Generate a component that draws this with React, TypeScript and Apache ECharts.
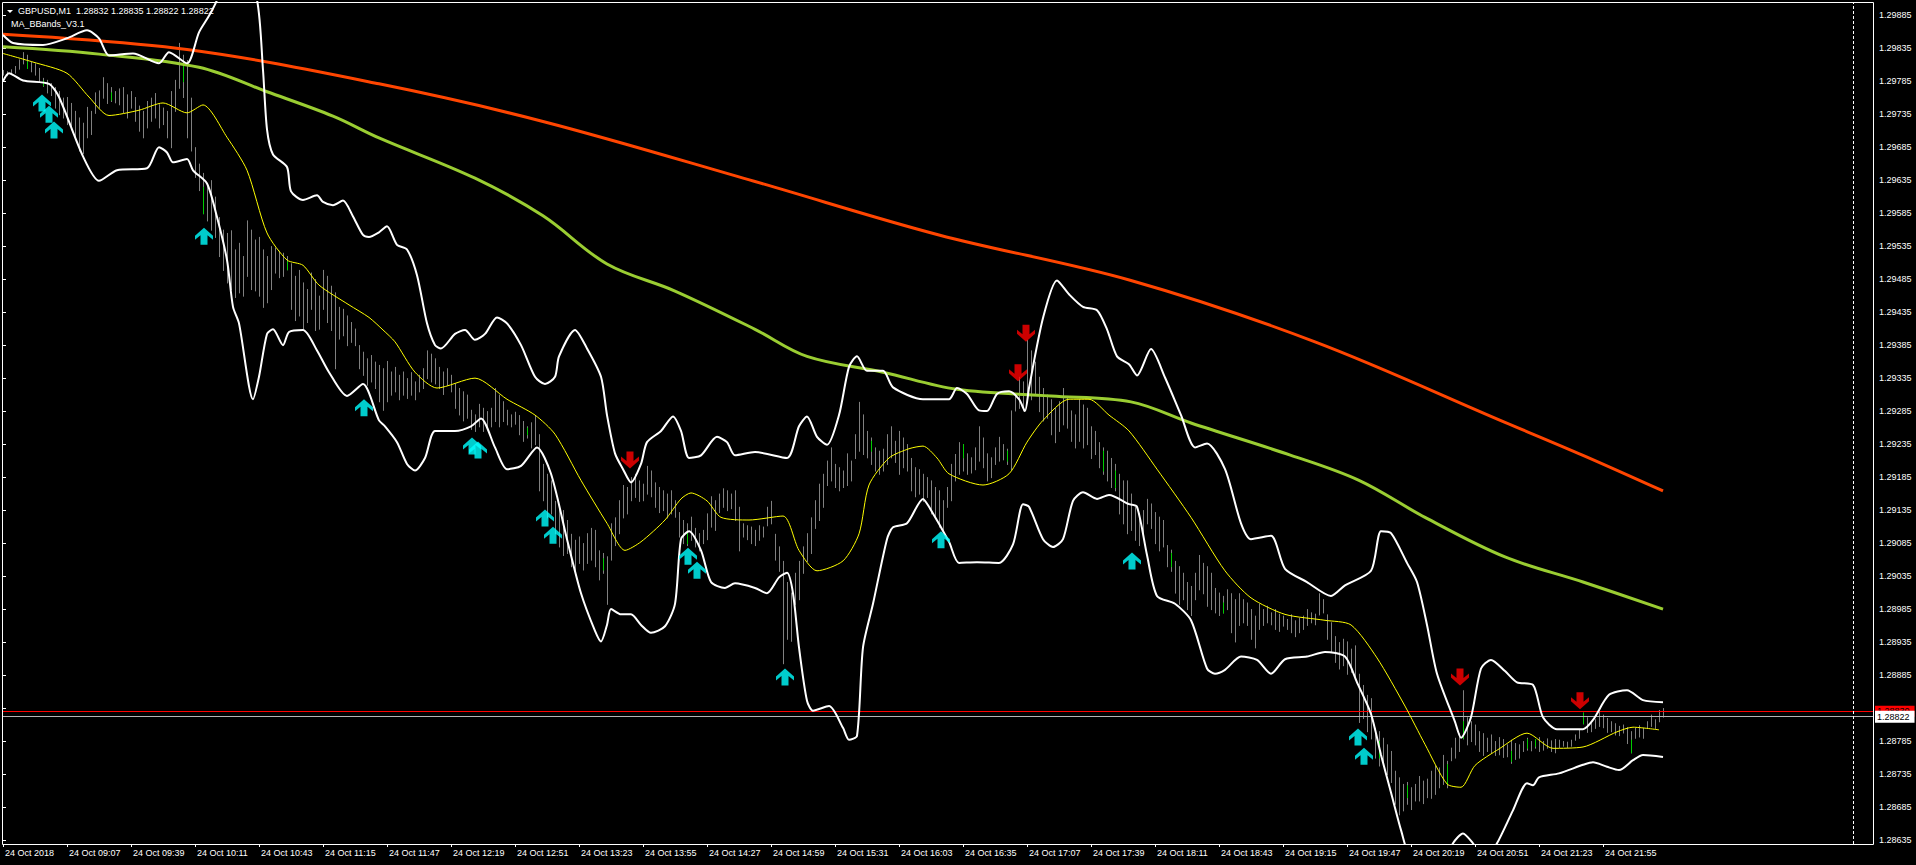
import React, { useEffect, useRef } from "react";
import * as echarts from "echarts";

// Prices are stored as points (0.00001) above BASE.
const BASE = 1.28;
const PT = 0.00001;
const BAR_STEP = 2; // one drawn bar every 2 one-minute bars

const xTickIdx = [0, 32, 64, 96, 128, 160, 192, 224, 256, 288, 320, 352, 384, 416, 448, 480, 512, 544, 576, 608, 640, 672, 704, 736, 768, 800];
const xTickLabels = [
  "24 Oct 2018", "24 Oct 09:07", "24 Oct 09:39", "24 Oct 10:11", "24 Oct 10:43", "24 Oct 11:15",
  "24 Oct 11:47", "24 Oct 12:19", "24 Oct 12:51", "24 Oct 13:23", "24 Oct 13:55", "24 Oct 14:27",
  "24 Oct 14:59", "24 Oct 15:31", "24 Oct 16:03", "24 Oct 16:35", "24 Oct 17:07", "24 Oct 17:39",
  "24 Oct 18:11", "24 Oct 18:43", "24 Oct 19:15", "24 Oct 19:47", "24 Oct 20:19", "24 Oct 20:51",
  "24 Oct 21:23", "24 Oct 21:55",
];
const yTickLabels = [
  "1.28635", "1.28685", "1.28735", "1.28785", "1.28835", "1.28885", "1.28935", "1.28985", "1.29035",
  "1.29085", "1.29135", "1.29185", "1.29235", "1.29285", "1.29335", "1.29385", "1.29435", "1.29485",
  "1.29535", "1.29585", "1.29635", "1.29685", "1.29735", "1.29785", "1.29835", "1.29885",
];
// tick label hidden behind the price labels in the reference
const hiddenYLabel = "1.28835";

const barHigh = [
  1802,1800,1803,1808,1818,1829,1825,1815,1812,1805,
  1790,1787,1782,1776,1770,1760,1761,1752,1740,1730,
  1722,1746,1740,1768,1771,1791,1782,1776,1770,1774,
  1776,1765,1770,1761,1748,1740,1755,1760,1767,1750,
  1745,1740,1770,1787,1843,1825,1817,1760,1685,1660,
  1646,1630,1635,1610,1579,1560,1555,1559,1530,1540,
  1520,1574,1560,1545,1549,1530,1520,1535,1533,1528,
  1525,1520,1509,1490,1499,1480,1470,1495,1485,1460,
  1499,1490,1475,1465,1443,1440,1430,1420,1410,1385,
  1375,1365,1370,1360,1355,1350,1361,1345,1352,1340,
  1345,1335,1344,1330,1340,1350,1377,1372,1365,1352,
  1345,1350,1340,1327,1320,1315,1310,1287,1280,1296,
  1290,1285,1290,1320,1310,1300,1287,1280,1284,1279,
  1270,1262,1268,1279,1250,1205,1190,1180,1149,1140,
  1135,1120,1099,1090,1095,1085,1100,1108,1105,1074,
  1070,1065,1115,1124,1150,1173,1170,1185,1190,1180,
  1175,1202,1195,1177,1170,1165,1160,1165,1150,1132,
  1120,1115,1125,1108,1100,1105,1130,1156,1150,1160,
  1168,1165,1160,1165,1140,1115,1112,1110,1105,1112,
  1110,1140,1149,1099,1080,1058,1026,1010,1040,1058,
  1080,1100,1124,1150,1175,1190,1210,1230,1205,1200,
  1195,1221,1210,1250,1299,1280,1255,1245,1230,1225,
  1228,1250,1262,1240,1255,1245,1235,1214,1200,1197,
  1190,1185,1180,1170,1165,1150,1170,1205,1220,1238,
  1235,1221,1215,1230,1262,1245,1221,1215,1230,1246,
  1235,1228,1286,1310,1337,1330,1393,1377,1360,1337,
  1320,1310,1303,1290,1300,1320,1305,1286,1280,1303,
  1295,1290,1262,1255,1238,1230,1225,1214,1205,1190,
  1180,1180,1160,1140,1130,1135,1152,1145,1132,1125,
  1120,1082,1075,1058,1050,1040,1026,1020,1040,1067,
  1055,1050,1040,1017,1010,1005,1015,1009,1000,1009,
  1000,995,985,975,993,985,990,980,985,978,
  975,970,977,968,972,975,985,980,978,1009,
  1000,977,965,944,935,940,936,925,930,887,
  870,855,850,805,800,790,780,770,740,730,
  720,723,715,720,732,725,728,740,748,745,
  764,755,775,790,797,862,821,815,810,800,
  797,790,795,785,791,788,780,787,782,780,
  785,790,785,788,791,785,789,786,788,787,
  785,784,787,795,802,828,821,815,818,829,
  825,820,815,812,808,810,806,800,805,809,
  805,815,825,818,832,835,
];
const barLow = [
  1795,1794,1796,1798,1804,1812,1810,1800,1795,1785,
  1778,1768,1764,1745,1735,1730,1720,1712,1700,1680,
  1676,1700,1705,1737,1745,1760,1752,1755,1753,1750,
  1738,1730,1745,1725,1710,1700,1715,1725,1730,1715,
  1720,1700,1685,1740,1775,1761,1700,1680,1640,1620,
  1585,1574,1560,1549,1520,1499,1480,1470,1458,1465,
  1460,1490,1470,1468,1460,1443,1450,1470,1495,1488,
  1490,1500,1440,1423,1430,1410,1420,1440,1408,1410,
  1440,1420,1408,1350,1395,1400,1385,1390,1385,1350,
  1340,1325,1330,1320,1300,1287,1300,1310,1315,1303,
  1310,1305,1310,1303,1315,1320,1335,1330,1327,1320,
  1311,1325,1315,1290,1280,1271,1275,1258,1255,1262,
  1255,1260,1262,1270,1262,1270,1265,1262,1266,1250,
  1240,1245,1230,1235,1165,1150,1124,1130,1100,1080,
  1067,1070,1050,1043,1055,1045,1055,1060,1050,1030,
  1040,993,1060,1082,1100,1124,1130,1150,1155,1149,
  1150,1160,1156,1140,1132,1135,1124,1130,1125,1095,
  1085,1082,1090,1080,1074,1085,1091,1110,1105,1132,
  1140,1135,1138,1120,1074,1095,1091,1085,1082,1090,
  1095,1112,1115,1060,1043,903,940,937,993,1000,
  1040,1058,1070,1108,1120,1140,1173,1180,1170,1165,
  1170,1173,1180,1214,1225,1220,1215,1205,1195,1190,
  1195,1205,1215,1208,1190,1200,1195,1165,1156,1160,
  1149,1155,1130,1124,1110,1103,1140,1150,1180,1190,
  1195,1190,1192,1197,1210,1200,1180,1185,1205,1210,
  1212,1205,1197,1286,1290,1286,1300,1303,1310,1285,
  1271,1275,1250,1238,1255,1265,1260,1240,1230,1240,
  1230,1235,1214,1220,1200,1190,1180,1170,1165,1130,
  1115,1100,1105,1090,1082,1095,1115,1108,1085,1074,
  1080,1050,1043,1010,993,1000,985,976,1000,1015,
  1009,990,985,980,976,980,985,950,936,961,
  965,961,940,927,955,961,965,962,955,952,
  960,955,950,944,950,955,961,965,962,977,
  980,940,920,905,895,900,887,890,880,814,
  820,800,789,760,748,750,735,723,690,674,
  680,690,682,695,695,691,700,699,705,715,
  720,715,756,760,770,789,780,785,780,770,
  764,770,768,764,765,761,762,752,758,760,
  770,772,771,775,770,772,775,770,768,776,
  778,776,778,787,790,812,799,800,805,808,
  806,799,800,795,794,798,782,768,790,792,
  790,805,808,805,815,822,
];
// [bar minute, body low, body high] for bull bars drawn in green
const greenBars = [
  [12, 1805, 1815], [20, 1779, 1786], [54, 1757, 1768], [90, 1785, 1809], [100, 1585, 1625],
  [142, 1500, 1512], [262, 1250, 1260], [300, 1045, 1062], [342, 1085, 1100], [434, 1225, 1240],
  [480, 1215, 1235], [502, 1210, 1225], [550, 1195, 1225], [556, 1170, 1195], [584, 1050, 1070],
  [610, 980, 995], [688, 760, 785], [702, 700, 718], [722, 720, 750], [730, 790, 815],
  [754, 755, 770], [762, 775, 788], [766, 778, 788], [790, 812, 828], [814, 768, 787],
];

const maSlow = [[0,1856],[92,1833],[188,1781],[270,1724],[376,1633],[468,1552],[564,1483],[656,1390],[751,1268],[790,1218],[830,1164]];
const maMid = [[0,1837],[48,1826],[98,1806],[132,1769],[165,1732],[188,1699],[236,1638],[270,1581],[302,1508],[336,1467],[376,1409],[402,1368],[440,1344],[477,1318],[524,1308],[564,1299],[594,1267],[644,1218],[678,1180],[711,1124],[751,1064],[790,1026],[830,985]];
const maFast = [[0,1827],[15,1814],[32,1797],[43,1761],[53,1733],[68,1741],[80,1752],[92,1737],[100,1749],[112,1700],[122,1650],[132,1555],[142,1514],[150,1506],[158,1476],[173,1446],[183,1427],[190,1408],[196,1390],[206,1344],[217,1320],[236,1335],[252,1303],[266,1279],[276,1250],[289,1180],[302,1115],[311,1074],[319,1087],[331,1120],[339,1152],[344,1161],[352,1149],[359,1124],[373,1120],[390,1126],[398,1074],[407,1043],[420,1058],[428,1099],[433,1173],[443,1214],[453,1228],[460,1232],[467,1214],[473,1190],[490,1173],[503,1190],[512,1238],[520,1271],[533,1303],[543,1303],[553,1279],[563,1255],[577,1197],[594,1124],[611,1043],[624,1002],[641,977],[661,968],[674,961],[687,911],[701,838],[711,780],[722,720],[729,715],[736,748],[748,773],[762,797],[775,774],[790,776],[807,799],[815,806],[828,802]];
const upperBand = [[0,1855],[5,1843],[20,1840],[32,1850],[42,1862],[48,1850],[53,1824],[65,1827],[78,1812],[83,1829],[92,1812],[98,1859],[103,1884],[107,1908],[117,1990],[127,1908],[130,1802],[132,1712],[135,1674],[142,1655],[144,1618],[150,1605],[157,1612],[160,1602],[165,1597],[170,1604],[175,1580],[180,1552],[183,1549],[188,1556],[192,1565],[197,1537],[202,1530],[207,1491],[212,1418],[216,1385],[219,1380],[226,1402],[231,1408],[236,1393],[241,1402],[247,1427],[252,1418],[259,1385],[266,1337],[271,1326],[276,1337],[278,1368],[286,1408],[292,1380],[299,1337],[302,1279],[306,1221],[310,1197],[314,1177],[319,1205],[322,1238],[329,1255],[335,1277],[339,1255],[343,1214],[349,1218],[357,1246],[362,1238],[366,1218],[376,1223],[392,1214],[398,1262],[402,1277],[407,1246],[412,1234],[418,1279],[423,1352],[427,1368],[432,1346],[440,1346],[445,1321],[460,1303],[473,1303],[477,1320],[482,1311],[488,1286],[492,1285],[497,1311],[503,1315],[508,1303],[511,1285],[513,1320],[520,1426],[527,1483],[533,1462],[540,1443],[547,1438],[552,1409],[557,1368],[563,1356],[567,1339],[574,1379],[581,1336],[589,1279],[596,1230],[602,1236],[611,1197],[619,1115],[624,1091],[634,1096],[641,1046],[652,1026],[664,1005],[671,1021],[684,1043],[689,1103],[694,1100],[702,1055],[707,1026],[712,961],[717,887],[726,814],[729,790],[734,821],[739,895],[744,908],[751,891],[757,874],[765,870],[770,821],[777,803],[790,803],[795,817],[803,855],[812,862],[820,847],[830,844]];
const lowerBand = [[0,1785],[3,1797],[10,1786],[23,1781],[28,1761],[40,1671],[48,1634],[57,1650],[72,1653],[78,1685],[82,1677],[85,1662],[92,1667],[95,1650],[102,1630],[107,1579],[112,1514],[115,1443],[118,1418],[125,1303],[128,1337],[132,1402],[135,1409],[140,1385],[143,1405],[150,1408],[157,1377],[163,1344],[172,1308],[180,1326],[188,1271],[191,1262],[197,1238],[202,1205],[206,1195],[211,1214],[216,1255],[226,1255],[234,1262],[239,1274],[246,1230],[252,1197],[259,1202],[267,1230],[274,1190],[282,1091],[289,1009],[296,952],[299,936],[302,961],[304,985],[309,977],[314,977],[319,961],[324,949],[331,959],[336,993],[339,1091],[343,1103],[349,1074],[354,1026],[361,1017],[366,1024],[376,1017],[382,1009],[388,1033],[392,1040],[395,1009],[398,927],[402,846],[405,831],[413,838],[420,805],[423,787],[427,793],[430,927],[435,993],[442,1091],[445,1109],[452,1115],[460,1152],[463,1140],[473,1087],[478,1055],[487,1056],[498,1055],[505,1083],[510,1144],[513,1140],[520,1091],[525,1079],[530,1091],[535,1149],[540,1162],[547,1152],[553,1158],[563,1144],[567,1140],[572,1067],[577,1005],[586,993],[594,968],[602,895],[606,887],[611,893],[619,913],[627,908],[634,887],[641,909],[652,913],[661,920],[671,913],[677,874],[684,826],[689,764],[694,707],[699,650],[705,590],[712,560],[719,590],[725,630],[730,645],[735,630],[741,605],[747,630],[755,680],[762,721],[765,718],[768,730],[778,736],[790,749],[795,753],[802,746],[808,741],[815,756],[820,764],[830,761]];

const buyArrows = [[19.5,1752],[23,1735],[25.5,1711],[100.5,1550],[180.5,1290],[234.5,1232],[237.5,1226],[271,1123],[275,1097],[342.5,1065],[347,1044],[391,882],[469,1090],[564.5,1058],[677.5,791],[680.5,762]];
const sellArrows = [[313.5,1211],[507.5,1343],[511.5,1403],[728.5,882],[788.5,846]];

const askPrice = 1.2883;
const bidPrice = 1.28822;
const shiftMarker = 925;
const headerLine1 = "GBPUSD,M1  1.28832 1.28835 1.28822 1.28822";
const headerLine2 = "MA_BBands_V3.1";

const FONT = "Liberation Sans";
const toPrice = (p: number) => +(BASE + p * PT).toFixed(5);
const toPts = (arr: number[][]) => arr.map((d) => [d[0], toPrice(d[1])]);

const UP_PATH = "path://M9 0 L18 8 L18 12 L12.5 7.5 L12.5 17 L5.5 17 L5.5 7.5 L0 12 L0 8 Z";
const DOWN_PATH = "path://M9 17 L18 9 L18 5 L12.5 9.5 L12.5 0 L5.5 0 L5.5 9.5 L0 5 L0 9 Z";

function barRenderer(color: string) {
  return (params: any, api: any) => {
    const x = api.value(0);
    const top = api.coord([x, api.value(2)]);
    const bot = api.coord([x, api.value(1)]);
    const px = Math.round(top[0]) + 0.5;
    return {
      type: "line",
      shape: { x1: px, y1: top[1], x2: px, y2: bot[1] + 1 },
      style: { stroke: color, lineWidth: 1 },
    };
  };
}

export default function App() {
  const ref = useRef<HTMLDivElement>(null);
  useEffect(() => {
    document.body.style.margin = "0";
    document.body.style.background = "#000";
    if (!ref.current) return;
    const chart = echarts.init(ref.current, undefined, { renderer: "svg" });
    const yVals = yTickLabels.map(Number);
    const yLabelVals = yTickLabels.filter((s) => s !== hiddenYLabel).map(Number);
    const bars = barHigh.map((h, i) => [i * BAR_STEP, toPrice(barLow[i]), toPrice(h)]);
    const greens = greenBars.map((g) => [g[0], toPrice(g[1]), toPrice(g[2])]);
    const lineCommon = { type: "line", showSymbol: false, symbol: "none", silent: true, clip: true };
    chart.setOption({
      animation: false,
      backgroundColor: "#000",
      textStyle: { fontFamily: FONT },
      grid: { left: 3, right: 43, top: 2, bottom: 21 },
      xAxis: {
        type: "value",
        min: 0,
        max: 935,
        axisLine: { show: false },
        splitLine: { show: false },
        axisTick: { show: true, length: 3, customValues: xTickIdx, lineStyle: { color: "#fff" } },
        axisLabel: {
          customValues: xTickIdx,
          formatter: (v: number) => xTickLabels[xTickIdx.indexOf(Math.round(v))] ?? "",
          color: "#fff",
          fontSize: 9,
          fontFamily: FONT,
          align: "left",
          margin: 4,
          padding: [0, 0, 0, 2],
        },
      },
      yAxis: {
        type: "value",
        position: "right",
        min: 1.28629,
        max: 1.29905,
        scale: true,
        axisLine: { show: false },
        splitLine: { show: false },
        axisTick: { show: true, length: 3, customValues: yVals, lineStyle: { color: "#fff" } },
        axisLabel: {
          customValues: yLabelVals,
          formatter: (v: number) => v.toFixed(5),
          color: "#fff",
          fontSize: 9,
          fontFamily: FONT,
          margin: 6,
        },
      },
      series: [
        {
          type: "custom",
          silent: true,
          renderItem: barRenderer("#808080"),
          encode: { x: 0, y: [1, 2] },
          data: bars,
          z: 2,
        },
        {
          type: "custom",
          silent: true,
          renderItem: barRenderer("#00cc00"),
          encode: { x: 0, y: [1, 2] },
          data: greens,
          z: 3,
        },
        {
          ...lineCommon,
          data: toPts(maSlow),
          smooth: 0.35,
          lineStyle: { color: "#ff4500", width: 3 },
          z: 4,
          markLine: {
            silent: true,
            precision: 5,
            symbol: ["none", "none"],
            animation: false,
            data: [
              {
                yAxis: askPrice,
                lineStyle: { color: "#ff0000", width: 1, type: "solid" },
                label: {
                  show: true, position: "end", distance: 2, formatter: askPrice.toFixed(5),
                  backgroundColor: "#ff0000", color: "#000", fontSize: 9, fontFamily: FONT, padding: [1, 5, 1, 2],
                },
              },
              {
                yAxis: bidPrice,
                lineStyle: { color: "#b4b4b4", width: 1, type: "solid" },
                label: {
                  show: true, position: "end", distance: 2, formatter: bidPrice.toFixed(5),
                  backgroundColor: "#ffffff", color: "#000", fontSize: 9, fontFamily: FONT, padding: [2, 5, 1, 2],
                },
              },
              {
                xAxis: shiftMarker,
                lineStyle: { color: "#ffffff", width: 1, type: [3, 2] },
                label: { show: false },
              },
            ],
          },
        },
        { ...lineCommon, data: toPts(maMid), smooth: 0.35, lineStyle: { color: "#9acd32", width: 3 }, z: 5 },
        { ...lineCommon, data: toPts(upperBand), smooth: 0.25, lineStyle: { color: "#ffffff", width: 2 }, z: 6 },
        { ...lineCommon, data: toPts(lowerBand), smooth: 0.25, lineStyle: { color: "#ffffff", width: 2 }, z: 6 },
        { ...lineCommon, data: toPts(maFast), smooth: 0.25, lineStyle: { color: "#ffff00", width: 1 }, z: 7 },
        {
          type: "scatter",
          silent: true,
          symbol: UP_PATH,
          symbolSize: [18, 17],
          itemStyle: { color: "#00ffff" },
          data: toPts(buyArrows),
          z: 8,
        },
        {
          type: "scatter",
          silent: true,
          symbol: DOWN_PATH,
          symbolSize: [18, 17],
          itemStyle: { color: "#ff0000" },
          data: toPts(sellArrows),
          z: 8,
        },
      ],
      graphic: [
        {
          type: "rect",
          silent: true,
          z: 100,
          shape: { x: 2.5, y: 2.5, width: 1871, height: 842 },
          style: { fill: "none", stroke: "#ffffff", lineWidth: 1 },
        },
        {
          type: "polygon",
          silent: true,
          z: 100,
          shape: { points: [[7, 10], [13, 10], [10, 13]] },
          style: { fill: "#ffffff" },
        },
        {
          type: "text",
          silent: true,
          z: 100,
          x: 18,
          y: 6,
          style: { text: headerLine1, fill: "#ffffff", font: `9px "${FONT}"`, textVerticalAlign: "top" },
        },
        {
          type: "text",
          silent: true,
          z: 100,
          x: 11,
          y: 19,
          style: { text: headerLine2, fill: "#ffffff", font: `9px "${FONT}"`, textVerticalAlign: "top" },
        },
      ],
    });
    return () => chart.dispose();
  }, []);
  return <div ref={ref} style={{ width: 1916, height: 865 }} />;
}
